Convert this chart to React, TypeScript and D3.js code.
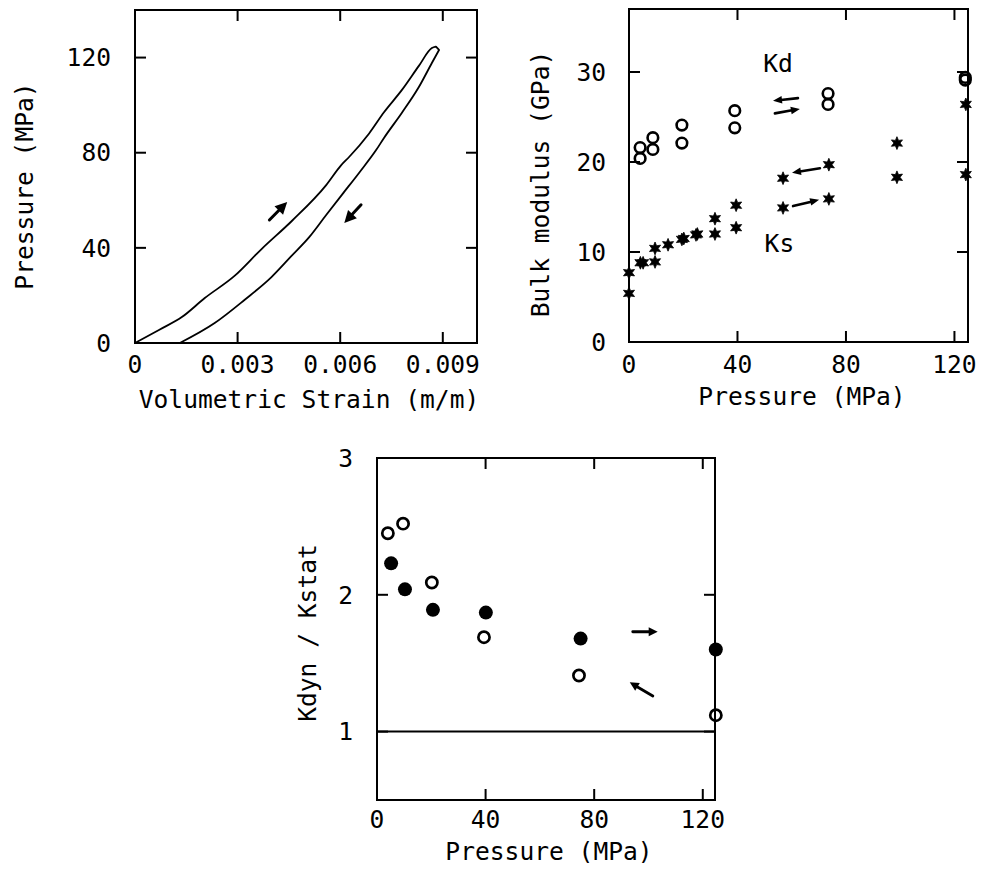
import React from 'react';
import * as d3 from 'd3';

const FONT = '"DejaVu Sans Mono", "Liberation Mono", monospace';
const FS = 24.6;

// ---------- Panel 1: pressure vs volumetric strain ----------
const loadStrain = [0, 0.0007, 0.00137, 0.00204, 0.00291, 0.0037, 0.0046, 0.00559, 0.00603, 0.00626, 0.00684, 0.00728, 0.0078, 0.0083, 0.00868, 0.0088];
const loadPressure = [0, 5.5, 10.9, 18.9, 28.2, 39.5, 51.5, 66.4, 74.8, 78.2, 88.0, 97.0, 106.3, 116.5, 124.0, 124.6];
const unloadStrain = [0.00131, 0.00233, 0.0032, 0.00399, 0.00457, 0.0051, 0.00559, 0.00606, 0.00655, 0.00705, 0.00728, 0.0078, 0.0083, 0.00868, 0.00889];
const unloadPressure = [0, 8.4, 18.1, 27.7, 36.5, 44.6, 53.8, 62.5, 71.5, 81.1, 86.2, 96.7, 107.6, 117.7, 123.2];
const p1XTicks = [0, 0.003, 0.006, 0.009];
const p1XTickLabels = ['0', '0.003', '0.006', '0.009'];
const p1YTicks = [0, 40, 80, 120];
const p1YTickLabels = ['0', '40', '80', '120'];
const p1Arrows = [
  { x1: 0.00393, y1: 51.7, x2: 0.00445, y2: 59.3 },
  { x1: 0.00661, y1: 58.1, x2: 0.00612, y2: 50.5 },
];

// ---------- Panel 2: bulk modulus vs pressure ----------
const kdPressure = [4.1, 4.1, 8.8, 8.8, 19.5, 19.5, 39, 39, 73.4, 73.4, 124, 124];
const kdModulus = [21.6, 20.4, 22.7, 21.4, 24.1, 22.1, 25.7, 23.8, 27.6, 26.4, 29.4, 29.1];
const ksPressure = [0, 0, 4.2, 5.2, 9.6, 9.6, 14.4, 19.5, 20.2, 24.7, 25.2, 31.7, 31.7, 39.5, 39.5, 56.8, 56.8, 73.7, 73.7, 98.8, 98.8, 124.2, 124.2];
const ksModulus = [7.7, 5.4, 8.8, 8.8, 10.4, 8.9, 10.8, 11.4, 11.5, 11.9, 12.0, 13.7, 12.0, 15.2, 12.7, 18.2, 14.9, 19.7, 15.9, 22.1, 18.3, 26.4, 18.6];
const p2XTicks = [0, 40, 80, 120];
const p2XTickLabels = ['0', '40', '80', '120'];
const p2YTicks = [0, 10, 20, 30];
const p2YTickLabels = ['0', '10', '20', '30'];
const p2Arrows = [
  { x1: 62.3, y1: 27.1, x2: 53.1, y2: 26.8 },
  { x1: 53.8, y1: 25.4, x2: 63.0, y2: 25.9 },
  { x1: 70.4, y1: 19.3, x2: 60.1, y2: 18.8 },
  { x1: 60.5, y1: 15.1, x2: 70.1, y2: 15.8 },
];
const p2Notes = [
  { text: 'Kd', x: 49.5, y: 30 },
  { text: 'Ks', x: 50, y: 10 },
];

// ---------- Panel 3: Kdyn / Kstat vs pressure ----------
const ratioOpenPressure = [4.0, 9.6, 20.2, 39.4, 74.4, 124.8];
const ratioOpen = [2.45, 2.52, 2.09, 1.69, 1.41, 1.12];
const ratioFilledPressure = [5.2, 10.3, 20.6, 40.1, 75, 124.8];
const ratioFilled = [2.23, 2.04, 1.89, 1.87, 1.68, 1.60];
const p3XTicks = [0, 40, 80, 120];
const p3XTickLabels = ['0', '40', '80', '120'];
const p3YTicks = [1, 2, 3];
const p3YTickLabels = ['1', '2', '3'];
const p3RefLine = 1;
const p3Arrows = [
  { x1: 94.2, y1: 1.73, x2: 103.4, y2: 1.73 },
  { x1: 101.6, y1: 1.26, x2: 93.1, y2: 1.36 },
];

type Scale = d3.ScaleLinear<number, number>;

function Frame(props: {
  x: Scale; y: Scale; xTicks: number[]; xLabels: string[]; yTicks: number[]; yLabels: string[];
  xLabelY: number; yLabelX: number; tickLen?: number;
}) {
  const { x, y, xTicks, xLabels, yTicks, yLabels, xLabelY, yLabelX } = props;
  const tl = props.tickLen ?? 11;
  const [x0, x1] = x.range();
  const [y0, y1] = y.range();
  const left = Math.min(x0, x1), right = Math.max(x0, x1);
  const top = Math.min(y0, y1), bottom = Math.max(y0, y1);
  return (
    <g>
      <rect x={left} y={top} width={right - left} height={bottom - top} fill="none" stroke="#000" strokeWidth={2} />
      {xTicks.map((t, i) => {
        const px = x(t);
        const inner = px > left + 1 && px < right - 1;
        return (
          <g key={'xt' + i}>
            {inner && <line x1={px} x2={px} y1={bottom} y2={bottom - tl} stroke="#000" strokeWidth={2} />}
            {inner && <line x1={px} x2={px} y1={top} y2={top + tl} stroke="#000" strokeWidth={2} />}
            <text x={px} y={xLabelY} textAnchor="middle" fontFamily={FONT} fontSize={FS}>{xLabels[i]}</text>
          </g>
        );
      })}
      {yTicks.map((t, i) => {
        const py = y(t);
        const inner = py > top + 1 && py < bottom - 1;
        return (
          <g key={'yt' + i}>
            {inner && <line x1={left} x2={left + tl} y1={py} y2={py} stroke="#000" strokeWidth={2} />}
            {inner && <line x1={right} x2={right - tl} y1={py} y2={py} stroke="#000" strokeWidth={2} />}
            <text x={yLabelX} y={py + 8.7} textAnchor="end" fontFamily={FONT} fontSize={FS}>{yLabels[i]}</text>
          </g>
        );
      })}
    </g>
  );
}

function Arrow(props: { x1: number; y1: number; x2: number; y2: number; head: number; half: number; w: number }) {
  const { x1, y1, x2, y2, head, half, w } = props;
  const dx = x2 - x1, dy = y2 - y1;
  const L = Math.hypot(dx, dy);
  const ux = dx / L, uy = dy / L;
  const bx = x2 - ux * head, by = y2 - uy * head;
  const nx = -uy, ny = ux;
  const pts = [[x2, y2], [bx + nx * half, by + ny * half], [bx - nx * half, by - ny * half]];
  return (
    <g>
      <line x1={x1} y1={y1} x2={bx + ux * 1} y2={by + uy * 1} stroke="#000" strokeWidth={w} strokeLinecap="round" />
      <polygon points={pts.map((p) => p.join(',')).join(' ')} fill="#000" />
    </g>
  );
}

function starPath(r: number, ri: number) {
  const pts: string[] = [];
  for (let i = 0; i < 12; i++) {
    const a = (Math.PI / 6) * i - Math.PI / 2;
    const rr = i % 2 === 0 ? r : ri;
    pts.push(`${(rr * Math.cos(a)).toFixed(2)},${(rr * Math.sin(a)).toFixed(2)}`);
  }
  return 'M' + pts.join('L') + 'Z';
}

export default function App() {
  // Panel 1 scales
  const x1 = d3.scaleLinear().domain([0, 0.01]).range([135, 477]);
  const y1 = d3.scaleLinear().domain([0, 140]).range([343, 10]);
  // Panel 2 scales
  const x2 = d3.scaleLinear().domain([0, 125]).range([629, 968]);
  const y2 = d3.scaleLinear().domain([0, 37]).range([342, 9]);
  // Panel 3 scales
  const x3 = d3.scaleLinear().domain([0, 124.5]).range([377, 715]);
  const y3 = d3.scaleLinear().domain([0.5, 3]).range([800, 458]);

  const line1 = d3.line<[number, number]>().x((d) => x1(d[0])).y((d) => y1(d[1])).curve(d3.curveMonotoneX);
  const loadPts = loadStrain.map((s, i) => [s, loadPressure[i]] as [number, number]);
  const unloadPts = unloadStrain.map((s, i) => [s, unloadPressure[i]] as [number, number]);
  const loadPath = line1(loadPts) || '';
  const unloadPath = line1(unloadPts) || '';
  const tipA = loadPts[loadPts.length - 1];
  const tipB = unloadPts[unloadPts.length - 1];

  const star = starPath(6.4, 3.1);

  return (
    <svg width={983} height={872} style={{ position: 'absolute', left: 0, top: 0, background: '#fff' }}>
      <rect width={983} height={872} fill="#fff" />
      {/* Panel 1 */}
      <Frame x={x1} y={y1} xTicks={p1XTicks} xLabels={p1XTickLabels} yTicks={p1YTicks} yLabels={p1YTickLabels} xLabelY={373} yLabelX={111} />
      <path d={loadPath} fill="none" stroke="#000" strokeWidth={1.8} strokeLinejoin="round" />
      <path d={unloadPath} fill="none" stroke="#000" strokeWidth={1.8} strokeLinejoin="round" />
      <line x1={x1(tipA[0])} y1={y1(tipA[1])} x2={x1(tipB[0])} y2={y1(tipB[1])} stroke="#000" strokeWidth={1.8} strokeLinecap="round" />
      {p1Arrows.map((a, i) => (
        <Arrow key={i} x1={x1(a.x1)} y1={y1(a.y1)} x2={x1(a.x2)} y2={y1(a.y2)} head={12} half={6} w={3} />
      ))}
      <text x={309} y={408} textAnchor="middle" fontFamily={FONT} fontSize={FS}>Volumetric Strain (m/m)</text>
      <text transform="translate(33,186) rotate(-90)" textAnchor="middle" fontFamily={FONT} fontSize={FS}>Pressure (MPa)</text>

      {/* Panel 2 */}
      <Frame x={x2} y={y2} xTicks={p2XTicks} xLabels={p2XTickLabels} yTicks={p2YTicks} yLabels={p2YTickLabels} xLabelY={373} yLabelX={606} />
      {kdPressure.map((p, i) => (
        <circle key={'kd' + i} cx={x2(p)} cy={y2(kdModulus[i])} r={5.3} fill="none" stroke="#000" strokeWidth={2.6} />
      ))}
      {ksPressure.map((p, i) => (
        <path key={'ks' + i} d={star} transform={`translate(${x2(p)},${y2(ksModulus[i])})`} fill="#000" stroke="#000" strokeWidth={0.8} strokeLinejoin="round" />
      ))}
      {p2Arrows.map((a, i) => (
        <Arrow key={i} x1={x2(a.x1)} y1={y2(a.y1)} x2={x2(a.x2)} y2={y2(a.y2)} head={9} half={3.8} w={2.6} />
      ))}
      {p2Notes.map((n, i) => (
        <text key={i} x={x2(n.x)} y={y2(n.y)} fontFamily={FONT} fontSize={FS}>{n.text}</text>
      ))}
      <text x={802} y={405} textAnchor="middle" fontFamily={FONT} fontSize={FS}>Pressure (MPa)</text>
      <text transform="translate(549,184) rotate(-90)" textAnchor="middle" fontFamily={FONT} fontSize={FS}>Bulk modulus (GPa)</text>

      {/* Panel 3 */}
      <Frame x={x3} y={y3} xTicks={p3XTicks} xLabels={p3XTickLabels} yTicks={p3YTicks} yLabels={p3YTickLabels} xLabelY={828} yLabelX={353} />
      <line x1={x3(0)} x2={x3(124.5)} y1={y3(p3RefLine)} y2={y3(p3RefLine)} stroke="#000" strokeWidth={2} />
      {ratioOpenPressure.map((p, i) => (
        <circle key={'ro' + i} cx={x3(p)} cy={y3(ratioOpen[i])} r={5.6} fill="none" stroke="#000" strokeWidth={2.7} />
      ))}
      {ratioFilledPressure.map((p, i) => (
        <circle key={'rf' + i} cx={x3(p)} cy={y3(ratioFilled[i])} r={7} fill="#000" />
      ))}
      {p3Arrows.map((a, i) => (
        <Arrow key={i} x1={x3(a.x1)} y1={y3(a.y1)} x2={x3(a.x2)} y2={y3(a.y2)} head={9} half={4.5} w={2.8} />
      ))}
      <text x={549} y={860} textAnchor="middle" fontFamily={FONT} fontSize={FS}>Pressure (MPa)</text>
      <text transform="translate(316,633) rotate(-90)" textAnchor="middle" fontFamily={FONT} fontSize={FS}>Kdyn / Kstat</text>
    </svg>
  );
}
